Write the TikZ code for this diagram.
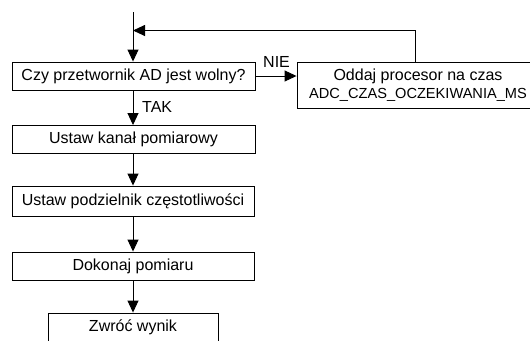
\documentclass[tikz,border=0pt]{standalone}
\usepackage{fontspec}
\setmainfont{Liberation Sans}
\usetikzlibrary{arrows.meta}
\begin{document}
\begin{tikzpicture}[x=1pt,y=-1pt,
  box/.style={draw,line width=0.9pt,inner sep=0pt,minimum height=28pt,font=\fontsize{16}{18}\selectfont},
  lbl/.style={inner sep=0pt,font=\fontsize{16}{18}\selectfont},
  arr/.style={line width=0.9pt,-{Triangle[length=12pt,width=11pt]}},
  ln/.style={line width=0.9pt}]
\useasboundingbox (0,0) rectangle (530,340);
\node[box,minimum width=243pt] (b1) at (133.5,76) {Czy przetwornik AD jest wolny?};
\node[box,minimum width=243pt] (b2) at (133.5,139.5) {Ustaw kanał pomiarowy};
\node[box,minimum width=242pt,minimum height=30pt] (b3) at (133,201) {Ustaw podzielnik częstotliwości};
\node[box,minimum width=242pt] (b4) at (133,266) {Dokonaj pomiaru};
\node[box,minimum width=170pt] (b5) at (133,327) {Zwróć wynik};
\node[box,minimum width=242pt,minimum height=46pt,align=center] (r) at (418,85) {Oddaj procesor na czas\\{\fontsize{14.6}{18}\selectfont ADC\_CZAS\_OCZEKIWANIA\_MS}};
\coordinate (start) at (133,12);
\coordinate (fb) at (133,30.5);
\coordinate (rtop) at (415,30.5);
\draw[arr] (start) -- (start |- b1.north);
\draw[arr] (b1.south -| start) -- (start |- b2.north);
\draw[arr] (b2.south -| start) -- (start |- b3.north);
\draw[arr] (b3.south -| start) -- (start |- b4.north);
\draw[arr] (b4.south -| start) -- (start |- b5.north);
\draw[arr] (b1.east) -- (r.west |- b1.east);
\draw[arr] (rtop |- r.north) -- (rtop) -- (fb);
\node[lbl,anchor=base west] (nie) at (263,67) {NIE};
\node[lbl,anchor=base west] (tak) at (142,112) {TAK};
\end{tikzpicture}
\end{document}
